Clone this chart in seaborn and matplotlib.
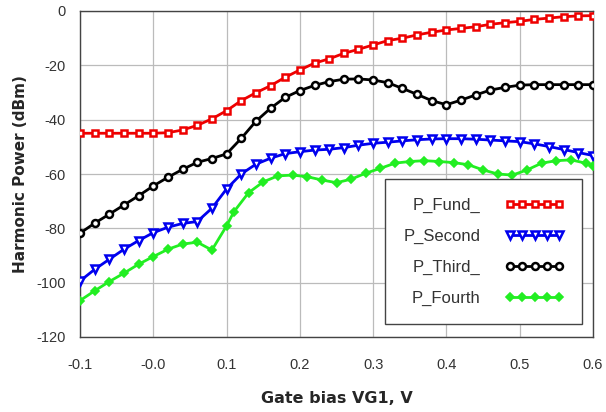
import matplotlib
matplotlib.use("Agg")
import matplotlib.pyplot as plt
import seaborn as sns
import pandas as pd
from matplotlib.lines import Line2D
from matplotlib.ticker import MultipleLocator, FixedLocator

x_main = [-0.1, -0.08, -0.06, -0.04, -0.02, 0.0, 0.02, 0.04, 0.06, 0.08, 0.10, 0.12,
          0.14, 0.16, 0.18, 0.20, 0.22, 0.24, 0.26, 0.28, 0.30, 0.32, 0.34, 0.36,
          0.38, 0.40, 0.42, 0.44, 0.46, 0.48, 0.50, 0.52, 0.54, 0.56, 0.58, 0.60]

p_fund = [-45.0, -45.0, -45.0, -45.0, -45.0, -45.0, -44.8, -43.8, -42.1, -39.7, -36.7, -33.0,
          -30.1, -27.5, -24.4, -21.7, -19.2, -17.6, -15.6, -14.1, -12.5, -10.9, -10.0, -8.8,
          -7.8, -7.0, -6.4, -5.8, -4.9, -4.3, -3.8, -3.1, -2.6, -2.1, -1.8, -1.7]

p_second = [-99.4, -95.1, -91.4, -87.7, -84.5, -81.6, -79.6, -78.2, -77.5, -72.6, -65.5, -60.0,
            -56.4, -54.2, -52.5, -51.8, -51.2, -50.9, -50.3, -49.4, -48.7, -48.3, -47.8, -47.4,
            -47.1, -47.0, -47.0, -47.2, -47.5, -47.8, -48.1, -48.9, -49.9, -51.0, -52.1, -53.2]

p_third = [-81.8, -78.1, -74.8, -71.4, -68.0, -64.4, -61.2, -58.3, -55.7, -54.3, -52.6, -46.9,
           -40.6, -35.8, -31.8, -29.3, -27.4, -26.0, -25.1, -25.0, -25.4, -26.4, -28.5, -30.7,
           -33.0, -34.5, -32.8, -30.9, -29.1, -28.1, -27.3, -27.1, -27.1, -27.1, -27.1, -27.1]

x_fourth = [-0.1, -0.08, -0.06, -0.04, -0.02, 0.0, 0.02, 0.04, 0.06, 0.08, 0.10,
            0.11, 0.13, 0.15, 0.17, 0.19, 0.21, 0.23, 0.25, 0.27, 0.29, 0.31, 0.33,
            0.35, 0.37, 0.39, 0.41, 0.43, 0.45, 0.47, 0.49, 0.51, 0.53, 0.55, 0.57,
            0.59, 0.60]
p_fourth = [-106.6, -103.0, -99.6, -96.5, -93.2, -90.4, -87.7, -85.8, -85.1, -88.0, -79.1,
            -73.9, -66.9, -62.9, -60.7, -60.4, -61.0, -62.2, -63.2, -61.9, -59.7, -57.9, -56.0,
            -55.4, -55.1, -55.4, -55.8, -56.6, -58.5, -60.0, -60.4, -58.5, -56.0, -55.1, -54.8,
            -56.0, -57.0]

labels = ["P_Fund_", "P_Second", "P_Third_", "P_Fourth"]
x_ticks = [-0.1, 0.0, 0.1, 0.2, 0.3, 0.4, 0.5, 0.6]
x_ticklabels = ["-0.1", "-0.0", "0.1", "0.2", "0.3", "0.4", "0.5", "0.6"]
y_ticks = [0, -20, -40, -60, -80, -100, -120]

sns.set_theme(style="white")
plt.rcParams['font.family'] = ['Liberation Sans', 'DejaVu Sans']
plt.rcParams['axes.unicode_minus'] = False

fig = plt.figure(figsize=(6.06, 4.12), dpi=100)
ax = fig.add_axes([80/606, 1-337/412, (593-80)/606, (337-11)/412])

styles = [
    dict(color="#ee0000", marker="s", mfc="white", ms=5, mew=1.8),
    dict(color="#0000ee", marker="v", mfc="white", ms=6, mew=1.8),
    dict(color="black", marker="o", mfc="white", ms=5, mew=1.8),
    dict(color="#22ee22", marker="D", mfc="#22ee22", ms=4.5, mew=1.2),
]
series = [(x_main, p_fund), (x_main, p_second), (x_main, p_third), (x_fourth, p_fourth)]

for (xs, ys), st, lab in zip(series, styles, labels):
    df = pd.DataFrame({"x": xs, "y": ys})
    sns.lineplot(data=df, x="x", y="y", ax=ax, color=st["color"], linewidth=2,
                 marker=st["marker"], markersize=st["ms"], markerfacecolor=st["mfc"],
                 markeredgecolor=st["color"], markeredgewidth=st["mew"], zorder=3)

ax.set_xlim(-0.1, 0.6)
ax.set_ylim(-120, 0)
ax.xaxis.set_major_locator(FixedLocator(x_ticks))
ax.set_xticklabels(x_ticklabels)
ax.xaxis.set_minor_locator(MultipleLocator(0.02))
ax.yaxis.set_major_locator(FixedLocator(y_ticks))
ax.yaxis.set_minor_locator(MultipleLocator(10))
ax.tick_params(axis="both", which="major", direction="out", length=8, width=1,
               color="#333333", labelsize=10.5, labelcolor="#333333", pad=2)
ax.tick_params(axis="both", which="minor", direction="out", length=5, width=0.8,
               color="#333333")
ax.tick_params(axis="x", which="major", pad=7)
ax.grid(True, which="major", color="#bbbbbb", linewidth=0.9)
for sp in ax.spines.values():
    sp.set_color("#444444")
    sp.set_linewidth(1.0)

ax.set_xlabel("Gate bias VG1, V", fontsize=11.5, fontweight="bold",
              family="DejaVu Sans", labelpad=14)
ax.set_ylabel("Harmonic Power (dBm)", fontsize=11, fontweight="bold",
              family="DejaVu Sans", labelpad=6)

handles = [Line2D([0], [0], color=st["color"], linewidth=2, marker=st["marker"],
                  markersize=st["ms"], markerfacecolor=st["mfc"],
                  markeredgecolor=st["color"], markeredgewidth=st["mew"])
           for st in styles]
leg = ax.legend(handles, labels, loc="lower right", bbox_to_anchor=(0.9786, 0.04),
                markerfirst=False, numpoints=5, handlelength=3.5,
                fontsize=12, labelspacing=0.95, borderpad=1.1, fancybox=False,
                framealpha=1, edgecolor="#444444", borderaxespad=0, handletextpad=1.5)
leg.get_frame().set_linewidth(1.0)
for t in leg.get_texts():
    t.set_color("#333333")

fig.savefig("out.png", dpi=100)
